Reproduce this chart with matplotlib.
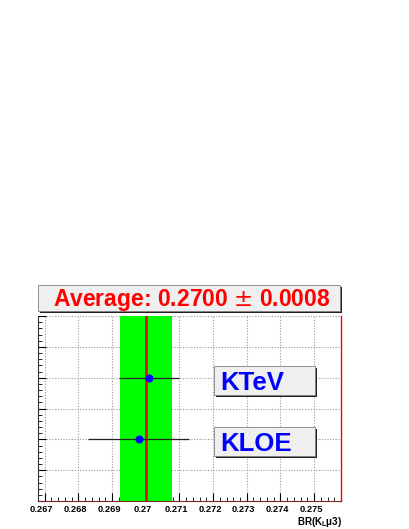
import matplotlib
matplotlib.use("Agg")
import matplotlib.pyplot as plt
import matplotlib.transforms as mtransforms
from matplotlib.patches import Rectangle
from matplotlib.ticker import MultipleLocator, FuncFormatter

# ---- data ----
experiments = ["KTeV", "KLOE"]
values = [0.2701, 0.2698]
errors = [0.0009, 0.0015]
ypos = [4, 2]
average = 0.2700
average_err = 0.00077
xlim = (0.2668, 0.2758)
ylim = (0, 6)
xlabel = "BR(K$_\\mathregular{L}$\u03bc3)"

W, H = 409, 529
fig = plt.figure(figsize=(W / 100, H / 100), dpi=100)
plt.rcParams['font.family'] = ['Liberation Sans', 'DejaVu Sans']

def fx(px):
    return px / W

def fy(py):
    return 1 - py / H

ax_l, ax_r, ax_t, ax_b = 38, 341, 316, 501
ax = fig.add_axes([fx(ax_l), fy(ax_b), fx(ax_r) - fx(ax_l), fy(ax_t) - fy(ax_b)])
ax.set_xlim(*xlim)
ax.set_ylim(*ylim)

# grid
ax.xaxis.set_major_locator(MultipleLocator(0.001))
ax.xaxis.set_minor_locator(MultipleLocator(0.0002))
ax.yaxis.set_major_locator(MultipleLocator(1))
ax.yaxis.set_minor_locator(MultipleLocator(0.2))
ax.grid(True, which='major', color='#9a9a9a', linestyle=(0, (1, 1.5)), linewidth=0.8, zorder=0)
ax.set_axisbelow(True)

# band and average line
ax.axvspan(average - average_err, average + average_err, color='#00ff00', zorder=1, lw=0)
ax.axvline(average, color='#ff0000', linewidth=2.0, zorder=2)

# points
ax.errorbar(values, ypos, xerr=errors, fmt='o', color='#0000ff', ecolor='#222222',
            elinewidth=0.9, markersize=4.8, capsize=0, zorder=4)

# ticks
def fmt(v, pos):
    return "%g" % round(v, 4)
ax.xaxis.set_major_formatter(FuncFormatter(fmt))
ax.tick_params(axis='x', which='major', direction='in', length=6, width=0.8, pad=3,
               labelsize=6.7, top=False)
ax.tick_params(axis='x', which='minor', direction='in', length=3, width=0.6, top=False)
ax.tick_params(axis='y', which='major', direction='in', length=6, width=0.8, labelleft=False, right=False)
ax.tick_params(axis='y', which='minor', direction='in', length=3, width=0.6, right=False)
shift = mtransforms.ScaledTranslation(-0.03, 0, fig.dpi_scale_trans)
for lab in ax.get_xticklabels():
    lab.set_fontweight('bold')
    lab.set_transform(lab.get_transform() + shift)

ax.spines['top'].set_visible(False)
ax.spines['right'].set_color('#ff0000')
ax.spines['right'].set_linewidth(1.0)
ax.spines['bottom'].set_color('#7a2a2a')
ax.spines['left'].set_color('#333333')

fig.text(fx(342), fy(515), xlabel, ha='right', va='top', fontsize=7, fontweight='bold')

# boxes with shadow
def shadow_box(x0, y0, x1, y1, sh=2):
    fig.patches.append(Rectangle((fx(x0 + sh), fy(y1 + sh)), fx(x1) - fx(x0), fy(y0) - fy(y1),
                                 transform=fig.transFigure, facecolor='#202020',
                                 edgecolor='none', zorder=5))
    fig.patches.append(Rectangle((fx(x0), fy(y1)), fx(x1) - fx(x0), fy(y0) - fy(y1),
                                 transform=fig.transFigure, facecolor='#efefef',
                                 edgecolor='#808080', linewidth=0.6, zorder=6))

shadow_box(38, 285, 340, 311)
title = "Average: %.4f $\\pm$ %.4f" % (average, average_err)
fig.text(fx(192), fy(300), title, ha='center', va='center', color='#ff0000',
         fontsize=16.5, fontweight='bold', zorder=7)

# box label rectangles for experiments
for name, y in zip(experiments, ypos):
    yc = ax.transData.transform((0, y))[1]
    ypx = H - yc
    shadow_box(214, ypx - 12, 315, ypx + 17)
    fig.text(fx(220), fy(ypx + 5), name, ha='left', va='center', color='#0000ff',
             fontsize=18.5, fontweight='bold', zorder=7)

fig.savefig("out.png", dpi=100)
